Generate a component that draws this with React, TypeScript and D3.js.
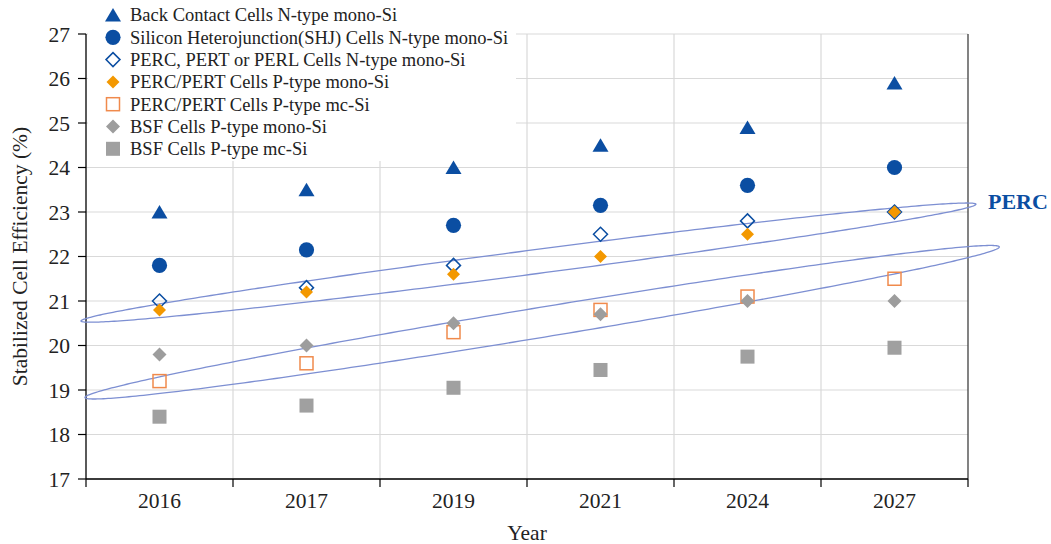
import React from "react";
import * as d3 from "d3";

const years = ["2016", "2017", "2019", "2021", "2024", "2027"];
const yTicks = [17, 18, 19, 20, 21, 22, 23, 24, 25, 26, 27];

const backContact = [23.0, 23.5, 24.0, 24.5, 24.9, 25.9];
const shj = [21.8, 22.15, 22.7, 23.15, 23.6, 24.0];
const percN = [21.0, 21.3, 21.8, 22.5, 22.8, 23.0];
const percPMono = [20.8, 21.2, 21.6, 22.0, 22.5, 23.0];
const percPMc = [19.2, 19.6, 20.3, 20.8, 21.1, 21.5];
const bsfMono = [19.8, 20.0, 20.5, 20.7, 21.0, 21.0];
const bsfMc = [18.4, 18.65, 19.05, 19.45, 19.75, 19.95];

const seriesNames = [
  "Back Contact Cells N-type mono-Si",
  "Silicon Heterojunction(SHJ) Cells N-type mono-Si",
  "PERC, PERT or PERL Cells N-type mono-Si",
  "PERC/PERT Cells P-type mono-Si",
  "PERC/PERT Cells P-type mc-Si",
  "BSF Cells P-type mono-Si",
  "BSF Cells P-type mc-Si",
];

// annotation ellipses: tips in (category index, value)
const ellipseUpper = { x1: -0.534, y1: 20.55, x2: 5.554, y2: 23.175 };
const ellipseLower = { x1: -0.507, y1: 18.83, x2: 5.713, y2: 22.216 };

const BLUE = "#0b4ea2";
const ORANGE = "#f39800";
const ORANGE2 = "#f08a4c";
const GRAY = "#a0a0a0";
const GRID = "#d9d9d9";
const ELL = "#7d8fd2";
const FONT = "'Liberation Serif', 'Times New Roman', serif";

const W = 1051, H = 544;
const L = 86, R = 968, T = 34, B = 479;

type Kind = "tri" | "circle" | "odiamond" | "fdiamond" | "osquare" | "gdiamond" | "gsquare";

function Marker({ kind, x, y }: { kind: Kind; x: number; y: number }) {
  switch (kind) {
    case "tri":
      return <path d={`M${x},${y - 7}L${x + 8},${y + 6.5}L${x - 8},${y + 6.5}Z`} fill={BLUE} />;
    case "circle":
      return <circle cx={x} cy={y} r={7.6} fill={BLUE} />;
    case "odiamond":
      return <path d={`M${x},${y - 7}L${x + 7},${y}L${x},${y + 7}L${x - 7},${y}Z`} fill="none" stroke={BLUE} strokeWidth={1.5} />;
    case "fdiamond":
      return <path d={`M${x},${y - 6.5}L${x + 6.5},${y}L${x},${y + 6.5}L${x - 6.5},${y}Z`} fill={ORANGE} />;
    case "osquare":
      return <rect x={x - 6.5} y={y - 6.5} width={13} height={13} fill="none" stroke={ORANGE2} strokeWidth={1.5} />;
    case "gdiamond":
      return <path d={`M${x},${y - 7}L${x + 7},${y}L${x},${y + 7}L${x - 7},${y}Z`} fill="#9d9d9d" />;
    case "gsquare":
      return <rect x={x - 7} y={y - 7} width={14} height={14} fill={GRAY} />;
  }
}

export default function App() {
  const x = d3.scaleBand<string>().domain(years).range([L, R]).padding(0);
  const xi = d3.scaleLinear().domain([-0.5, years.length - 0.5]).range([L, R]);
  const y = d3.scaleLinear().domain([17, 27]).range([B, T]);
  const cx = (yr: string) => (x(yr) as number) + x.bandwidth() / 2;

  const series: { vals: number[]; kind: Kind }[] = [
    { vals: backContact, kind: "tri" },
    { vals: shj, kind: "circle" },
    { vals: percN, kind: "odiamond" },
    { vals: percPMono, kind: "fdiamond" },
    { vals: percPMc, kind: "osquare" },
    { vals: bsfMono, kind: "gdiamond" },
    { vals: bsfMc, kind: "gsquare" },
  ];

  const ellipsePath = (e: { x1: number; y1: number; x2: number; y2: number }, b: number) => {
    const px1 = xi(e.x1), py1 = y(e.y1), px2 = xi(e.x2), py2 = y(e.y2);
    const mx = (px1 + px2) / 2, my = (py1 + py2) / 2;
    const a = Math.hypot(px2 - px1, py2 - py1) / 2;
    const th = Math.atan2(py2 - py1, px2 - px1);
    const pts: [number, number][] = d3.range(0, 360, 1).map((deg) => {
      const t = (deg * Math.PI) / 180;
      const u = a * Math.cos(t), v = b * Math.sin(t);
      return [mx + u * Math.cos(th) - v * Math.sin(th), my + u * Math.sin(th) + v * Math.cos(th)];
    });
    return d3.line().curve(d3.curveLinearClosed)(pts) as string;
  };

  const bounds = d3.range(years.length + 1).map((i) => L + i * x.bandwidth());

  return (
    <svg width={W} height={H} style={{ position: "absolute", left: 0, top: 0, background: "#fff" }} fontFamily={FONT}>
      <rect x={0} y={0} width={W} height={H} fill="#fff" />
      {/* gridlines */}
      {yTicks.map((t) => (
        <line key={"gy" + t} x1={L} x2={R} y1={y(t)} y2={y(t)} stroke={GRID} strokeWidth={1.2} />
      ))}
      {bounds.slice(1, -1).map((bx, i) => (
        <line key={"gx" + i} x1={bx} x2={bx} y1={T} y2={B} stroke={GRID} strokeWidth={1.2} />
      ))}
      {/* legend background */}
      <rect x={L + 2} y={0} width={428} height={161} fill="#fff" />
      {/* right border */}
      <line x1={R} x2={R} y1={T} y2={B} stroke="#404040" strokeWidth={1.3} />
      {/* axes */}
      <line x1={L} x2={L} y1={T} y2={B} stroke="#000" strokeWidth={1.3} />
      <line x1={L} x2={R} y1={B} y2={B} stroke="#000" strokeWidth={1.3} />
      {yTicks.map((t) => (
        <g key={"ty" + t}>
          <line x1={L - 8} x2={L} y1={y(t)} y2={y(t)} stroke="#000" strokeWidth={1.2} />
          <text x={L - 16} y={y(t)} dy="0.35em" textAnchor="end" fontSize={21.5} fill="#222">
            {t}
          </text>
        </g>
      ))}
      {bounds.map((bx, i) => (
        <line key={"tx" + i} x1={bx} x2={bx} y1={B} y2={B + 8} stroke="#000" strokeWidth={1.2} />
      ))}
      {years.map((yr) => (
        <text key={"lx" + yr} x={cx(yr)} y={508} textAnchor="middle" fontSize={21.5} fill="#222">
          {yr}
        </text>
      ))}
      <text x={(L + R) / 2} y={540} textAnchor="middle" fontSize={21.5} fill="#222">
        Year
      </text>
      <text transform={`translate(27,${(T + B) / 2}) rotate(-90)`} textAnchor="middle" fontSize={21.5} fill="#222">
        Stabilized Cell Efficiency (%)
      </text>
      {/* ellipses */}
      <path d={ellipsePath(ellipseUpper, 12)} fill="none" stroke={ELL} strokeWidth={1.3} />
      <path d={ellipsePath(ellipseLower, 15)} fill="none" stroke={ELL} strokeWidth={1.3} />
      {/* markers */}
      {series.map((s, si) =>
        s.vals.map((v, i) => <Marker key={si + "-" + i} kind={s.kind} x={cx(years[i])} y={y(v)} />)
      )}
      {/* legend */}
      {seriesNames.map((n, i) => (
        <g key={"lg" + i}>
          <Marker kind={series[i].kind} x={113} y={15 + i * 22.3} />
          <text x={130} y={15 + i * 22.3} dy="0.35em" fontSize={18.5} fill="#222">
            {n}
          </text>
        </g>
      ))}
      <text x={988} y={209} fontSize={22} fontWeight="bold" fill={BLUE}>
        PERC
      </text>
    </svg>
  );
}
